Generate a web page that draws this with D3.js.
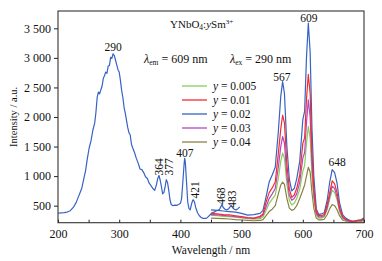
<!DOCTYPE html>
<meta charset="utf-8">
<style>
  body { margin: 0; background: #fff; }
  text { font-family: "Liberation Serif", "DejaVu Serif", serif; }
</style>
<svg width="382" height="261"></svg>
<script src="https://d3js.org/d3.v7.min.js"></script>
<script>

// excitation spectrum (lambda_em = 609 nm), y = 0.02
const exWl = [200,205,210,215,220,225,230,233,236,239,242,245,248,251,254,257,260,262,264,266,268,270,272,274,276,278,280,282,284,286,288,290,292,294,296,298,300,302,304,306,308,310,312,314,316,318,320,322,325,328,331,334,337,340,343,346,349,352,355,358,361,363,365,367,369,371,373,375,377,379,381,383,385,388,391,394,397,400,402,404,406,407,408,410,412,414,416,418,420,421,423,425,428,431,434,437,440,443,446,449,452,455,458,461,464,466,468,470,473,476,479,481,483,485,488,491,494,497]
const exInt = [372,378,382,392,415,470,560,640,720,800,950,1090,1300,1480,1600,1780,1900,2080,2330,2420,2390,2460,2520,2650,2700,2760,2740,2860,2870,3010,2990,3070,3040,2960,2880,2800,2760,2620,2450,2330,2160,2060,1940,1820,1730,1700,1540,1480,1400,1300,1220,1120,1110,1060,990,960,880,840,790,760,860,960,1010,930,820,700,720,820,940,890,760,600,520,500,510,505,520,540,620,900,1200,1300,1240,900,560,450,430,520,590,600,560,470,380,330,300,285,285,290,320,350,380,390,410,420,440,480,520,470,440,430,450,480,500,470,440,430,450,480]

// emission spectra (lambda_ex = 290 nm)
const emWl = [450,460,470,480,490,500,510,520,530,535,540,545,550,555,560,564,567,570,574,578,582,586,590,595,600,603,606,609,612,615,618,622,626,630,635,640,644,648,652,656,660,665,670,675,680,685,690,695,700]
const em005 = [335,330,320,315,305,295,280,270,280,310,420,540,610,680,960,1250,1390,1300,870,590,510,540,620,780,1080,1180,1550,1840,1650,1000,600,340,290,290,310,440,610,760,720,600,400,280,250,235,225,230,240,245,265]
const em01 = [370,360,350,345,330,315,300,290,320,360,560,720,800,900,1380,1800,2030,1900,1200,780,640,680,790,1020,1550,1650,2300,2720,2400,1400,780,400,330,330,350,520,720,920,870,720,470,320,270,245,235,240,250,255,280]
const em02 = [430,420,410,400,390,370,340,350,370,420,650,900,1020,1150,1750,2350,2600,2400,1500,950,750,790,950,1250,1950,2100,3000,3590,3100,1800,1000,450,350,360,380,600,900,1110,1060,880,550,350,290,260,240,240,250,260,290]
const em03 = [350,345,335,325,315,300,290,285,300,340,480,620,700,790,1150,1500,1670,1560,1000,680,590,620,700,900,1300,1400,1900,2290,2000,1200,700,370,310,310,330,470,660,830,790,650,430,300,260,240,230,235,245,250,270]
const em04 = [290,285,280,275,265,258,250,245,250,265,330,400,440,500,700,850,900,860,620,460,420,440,500,620,760,850,1000,1150,1070,720,460,290,260,260,270,350,450,520,500,430,330,260,240,230,222,225,230,235,250]

const seriesNames = ["0.005", "0.01", "0.02", "0.03", "0.04"]
const seriesColors = ["#86cf5a", "#f52c2c", "#3762c4", "#b548c2", "#8c8045"]
const seriesValues = [em005, em01, em02, em03, em04]

const xTicks = [200,250,300,350,400,450,500,550,600,650,700]
const yTicks = [500,1000,1500,2000,2500,3000,3500]

// peak annotations: [label, wavelength, intensity, rotated]
const peaks = [
  ["290", 290, 3117, false],
  ["364", 365.5, 1155, true],
  ["377", 382, 1155, true],
  ["407", 407.5, 1324, false],
  ["421", 424, 766, true],
  ["468", 466.3, 660, true],
  ["483", 484.3, 610, true],
  ["567", 566, 2609, false],
  ["609", 610, 3615, false],
  ["648", 656, 1172, false]
]

const width = 382, height = 261
const margin = {top: 11, right: 18, bottom: 38.3, left: 58}

const svg = d3.select("svg")

const x = d3.scaleLinear().domain([200, 700]).range([margin.left, width - margin.right])
const y = d3.scaleLinear().domain([212, 3793]).range([height - margin.bottom, margin.top])

const fmt = d3.formatLocale({decimal: ".", thousands: " ", grouping: [3], currency: ["", ""]}).format(",")

svg.append("clipPath").attr("id", "clip")
  .append("rect")
    .attr("x", margin.left).attr("y", margin.top)
    .attr("width", x.range()[1] - margin.left)
    .attr("height", y.range()[0] - margin.top)

const line = d3.line().x(d => x(d[0])).y(d => y(d[1]))

const plot = svg.append("g").attr("clip-path", "url(#clip)")
  .attr("fill", "none").attr("stroke-width", 1.2).attr("stroke-linejoin", "round")

plot.append("path")
    .attr("stroke", seriesColors[2])
    .attr("d", line(exWl.map((w, i) => [w, exInt[i]])))

const drawOrder = [4, 0, 3, 2, 1]
drawOrder.forEach(k => {
  plot.append("path")
      .attr("stroke", seriesColors[k])
      .attr("d", line(emWl.map((w, i) => [w, seriesValues[k][i]])))
})

// axes
const gx = svg.append("g")
    .attr("transform", `translate(0,${y.range()[0]})`)
    .call(d3.axisBottom(x).tickValues(xTicks).tickSizeInner(-3).tickSizeOuter(0).tickPadding(7)
      .tickFormat(d => d % 100 === 0 ? d : ""))
gx.select(".domain").remove()

const gy = svg.append("g")
    .attr("transform", `translate(${margin.left},0)`)
    .call(d3.axisLeft(y).tickValues(yTicks).tickSize(4).tickPadding(3).tickFormat(fmt))
gy.select(".domain").remove()

svg.selectAll(".tick text").attr("font-family", "Liberation Serif").attr("font-size", 12).attr("fill", "#111")
svg.selectAll(".tick line").attr("stroke", "#222")

svg.append("rect")
    .attr("x", margin.left).attr("y", margin.top)
    .attr("width", x.range()[1] - margin.left)
    .attr("height", y.range()[0] - margin.top)
    .attr("fill", "none").attr("stroke", "#333").attr("stroke-width", 1.1)

// axis titles
svg.append("text")
    .attr("x", (x.range()[0] + x.range()[1]) / 2).attr("y", 254)
    .attr("text-anchor", "middle").attr("font-size", 11.5).attr("fill", "#111")
    .text("Wavelength / nm")

svg.append("text")
    .attr("transform", `translate(17,${(y.range()[0] + y.range()[1]) / 2}) rotate(-90)`)
    .attr("text-anchor", "middle").attr("font-size", 10.5).attr("fill", "#111")
    .text("Intensity / a.u.")

// peak labels
svg.append("g").attr("font-size", 11.5).attr("fill", "#111")
  .selectAll("text")
  .data(peaks)
  .join("text")
    .attr("text-anchor", "middle")
    .attr("transform", d => d[3]
      ? `translate(${x(d[1])},${y(d[2])}) rotate(-90)`
      : `translate(${x(d[1])},${y(d[2])})`)
    .attr("dy", d => d[3] ? "0.35em" : null)
    .text(d => d[0])

// title
const title = svg.append("text").attr("x", 170).attr("y", 27.5).attr("font-size", 11).attr("fill", "#111")
title.append("tspan").text("YNbO")
title.append("tspan").attr("dy", 2.5).attr("font-size", 7.5).text("4")
title.append("tspan").attr("dy", -2.5).text(":")
title.append("tspan").attr("font-style", "italic").text("y")
title.append("tspan").text("Sm")
title.append("tspan").attr("dy", -4).attr("font-size", 7).text("3+")

const lam = svg.append("text").attr("x", 144).attr("y", 62.5).attr("font-size", 12).attr("fill", "#111")
lam.append("tspan").attr("font-style", "italic").text("λ")
lam.append("tspan").attr("dy", 2.5).attr("font-size", 7.5).text("em")
lam.append("tspan").attr("dy", -2.5).text(" = 609 nm")
lam.append("tspan").attr("x", 230).attr("font-style", "italic").text("λ")
lam.append("tspan").attr("dy", 2.5).attr("font-size", 7.5).text("ex")
lam.append("tspan").attr("dy", -2.5).text(" = 290 nm")

// legend
const legend = svg.append("g")
  .selectAll("g")
  .data(seriesNames)
  .join("g")
    .attr("transform", (d, i) => `translate(182,${86 + i * 14})`)

legend.append("line")
    .attr("x2", 25)
    .attr("stroke", (d, i) => seriesColors[i])
    .attr("stroke-width", 1.3)

const lt = legend.append("text")
    .attr("x", 31).attr("dy", "0.35em")
    .attr("font-size", 11.5).attr("fill", "#111")
lt.append("tspan").attr("font-style", "italic").text("y")
lt.append("tspan").text(d => ` = ${d}`)

</script>
